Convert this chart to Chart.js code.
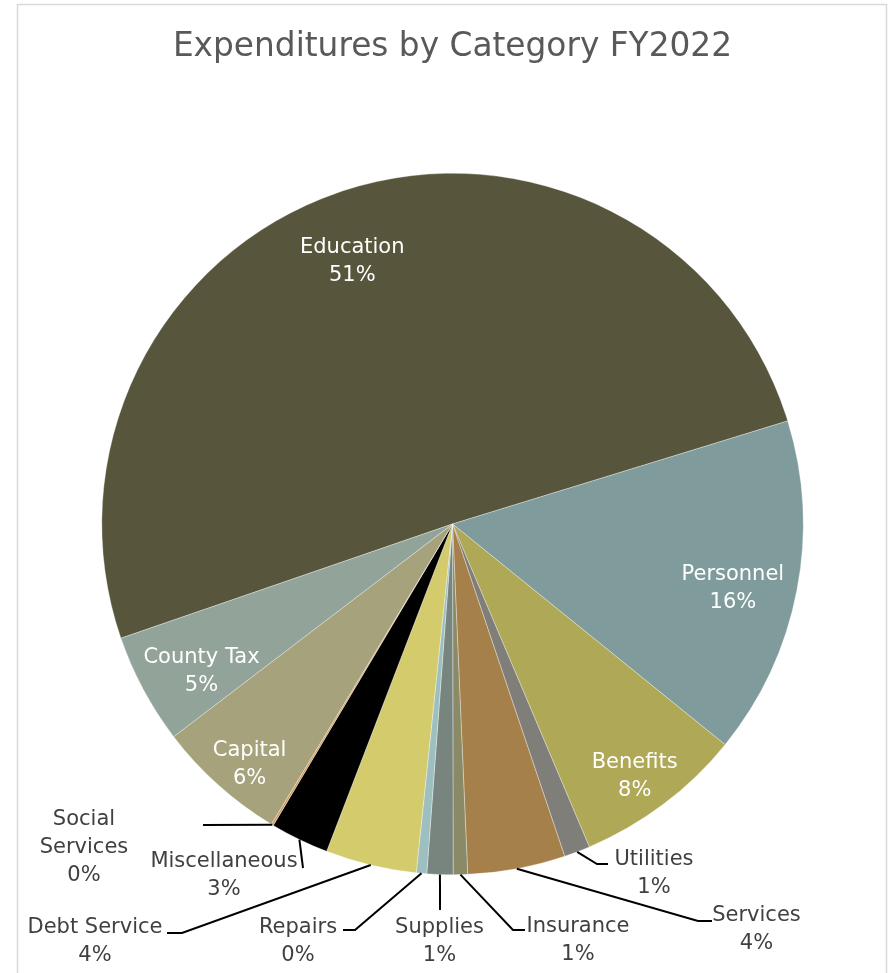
<!DOCTYPE html>
<html>
<head>
<meta charset="utf-8">
<title>Expenditures by Category FY2022</title>
<script src="https://cdn.jsdelivr.net/npm/chart.js@4/dist/chart.umd.min.js"></script>
<style>
  html, body { margin: 0; padding: 0; background: #ffffff; }
  canvas { display: block; }
</style>
</head>
<body>
<canvas id="chart" width="888" height="973"></canvas>
<script>
// Spending categories, in slice order (clockwise)
const categories = [
  'Education', 'Personnel', 'Benefits', 'Utilities', 'Services', 'Insurance',
  'Supplies', 'Repairs', 'Debt Service', 'Miscellaneous', 'Social Services',
  'Capital', 'County Tax'
];

// Share of total expenditures, percent
const shares = [50.6, 15.6, 7.8, 1.2, 4.5, 0.66, 1.2, 0.48, 4.2, 2.7, 0.1, 6.0, 5.1];

// Label text split across lines (category name part)
const labelLines = [
  ['Education'], ['Personnel'], ['Benefits'], ['Utilities'], ['Services'], ['Insurance'],
  ['Supplies'], ['Repairs'], ['Debt Service'], ['Miscellaneous'], ['Social', 'Services'],
  ['Capital'], ['County Tax']
];

const sliceColors = [
  '#57553b', '#7f9b9b', '#aea857', '#7f7e78', '#a6804b', '#8b8a66',
  '#78857f', '#9ebfbf', '#d3cb6c', '#000000', '#d49a5a', '#a6a27c', '#92a39a'
];

// Where each label goes. 'in': inside the slice, at a fraction r of the radius along
// the slice's mid-angle nudged by da degrees. 'out': first-line baseline at (dx, dy)
// from the pie centre, with a leader from the slice rim through the listed points
// (also relative to the centre).
const labelPlacement = [
  { mode: 'in', r: 0.807, da: -2.7 },
  { mode: 'in', r: 0.819, da: 1.6 },
  { mode: 'in', r: 0.884, da: 1.0 },
  { mode: 'out', dx: 201.5, dy: 341, leader: [[144.5, 340], [155.5, 340]] },
  { mode: 'out', dx: 304, dy: 397, leader: [[245.5, 397], [259.5, 397]] },
  { mode: 'out', dx: 125.5, dy: 408, leader: [[60.5, 406], [72.5, 406]] },
  { mode: 'out', dx: -13, dy: 409, leader: [[-12.5, 386]] },
  { mode: 'out', dx: -154.5, dy: 409, leader: [[-97.5, 406], [-109.5, 406]] },
  { mode: 'out', dx: -357.5, dy: 409, leader: [[-270.5, 409], [-285.5, 409]] },
  { mode: 'out', dx: -228.5, dy: 343, leader: [[-149.5, 344]] },
  { mode: 'out', dx: -368.5, dy: 301, leader: [[-249.5, 301]] },
  { mode: 'in', r: 0.892, da: -1.45 },
  { mode: 'in', r: 0.827, da: -1.9 }
];

const FONT = '"DejaVu Sans", "Open Sans", sans-serif';
const LABEL_SIZE = 21;
const LINE_GAP = 28;

const total = shares.reduce((a, b) => a + b, 0);
const pctText = v => Math.round(v / total * 100) + '%';

// Light grey frame around the chart area
const framePlugin = {
  id: 'frame',
  beforeDraw(chart) {
    const ctx = chart.ctx;
    ctx.save();
    ctx.fillStyle = '#ffffff';
    ctx.fillRect(0, 0, chart.width, chart.height);
    ctx.strokeStyle = '#d9d9d9';
    ctx.lineWidth = 1.5;
    ctx.strokeRect(17.5, 4.5, 869, 1100);
    ctx.restore();
  }
};

// Category / percent labels, with leader lines for the small slices
const sliceLabelPlugin = {
  id: 'sliceLabels',
  afterDatasetsDraw(chart) {
    const ctx = chart.ctx;
    const meta = chart.getDatasetMeta(0);
    ctx.save();
    ctx.font = LABEL_SIZE + 'px ' + FONT;
    ctx.textAlign = 'center';
    ctx.textBaseline = 'alphabetic';
    meta.data.forEach((arc, i) => {
      const p = arc.getProps(['x', 'y', 'startAngle', 'endAngle', 'outerRadius'], true);
      const mid = (p.startAngle + p.endAngle) / 2;
      const place = labelPlacement[i];
      const lines = labelLines[i].concat([pctText(shares[i])]);
      let cx, firstBase;
      if (place.mode === 'in') {
        const a = mid + place.da * Math.PI / 180;
        const bx = p.x + Math.cos(a) * p.outerRadius * place.r;
        const by = p.y + Math.sin(a) * p.outerRadius * place.r;
        const blockH = (lines.length - 1) * LINE_GAP;
        cx = bx;
        firstBase = by - blockH / 2 + 7.5;
        ctx.fillStyle = '#ffffff';
      } else {
        cx = p.x + place.dx;
        firstBase = p.y + place.dy;
        // leader line from the slice rim
        ctx.strokeStyle = '#000000';
        ctx.lineWidth = 2;
        ctx.beginPath();
        ctx.moveTo(p.x + Math.cos(mid) * p.outerRadius, p.y + Math.sin(mid) * p.outerRadius);
        place.leader.forEach(pt => ctx.lineTo(p.x + pt[0], p.y + pt[1]));
        ctx.stroke();
        ctx.fillStyle = '#404040';
      }
      lines.forEach((t, k) => ctx.fillText(t, cx, firstBase + k * LINE_GAP));
    });
    ctx.restore();
  }
};

new Chart(document.getElementById('chart'), {
  type: 'pie',
  data: {
    labels: categories,
    datasets: [{
      data: shares,
      backgroundColor: sliceColors,
      borderColor: 'rgba(255,255,255,0.55)',
      borderWidth: 0.6
    }]
  },
  options: {
    responsive: false,
    animation: false,
    rotation: 251.0,
    layout: { padding: { left: 101.5, right: 84.5, top: 0, bottom: 98 } },
    plugins: {
      legend: { display: false },
      tooltip: { enabled: false },
      title: {
        display: true,
        text: 'Expenditures by Category FY2022',
        color: '#595959',
        font: { family: FONT, size: 32.8, weight: 'normal' },
        padding: { top: 27.8, bottom: 105.84 }
      }
    }
  },
  plugins: [framePlugin, sliceLabelPlugin]
});
</script>
</body>
</html>
